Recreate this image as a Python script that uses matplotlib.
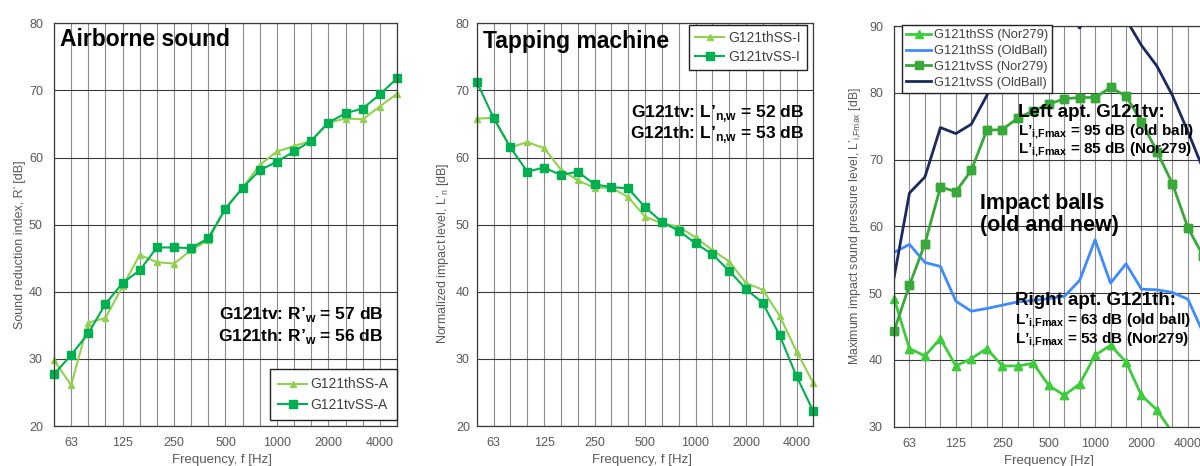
import numpy as np
import matplotlib
matplotlib.use('Agg')
import matplotlib.pyplot as plt

plt.rcParams['font.family'] = ['Liberation Sans', 'DejaVu Sans']
plt.rcParams['mathtext.fontset'] = 'custom'
plt.rcParams['mathtext.rm'] = 'Liberation Sans'
plt.rcParams['mathtext.bf'] = 'Liberation Sans:bold'

# 1/3 octave bands
freqs = [50, 63, 80, 100, 125, 160, 200, 250, 315, 400, 500, 630, 800,
         1000, 1250, 1600, 2000, 2500, 3150, 4000, 5000]
shown = [63, 125, 250, 500, 1000, 2000, 4000]

# airborne sound, R' [dB]
R_th = [29.8, 26.1, 35.4, 36.1, 40.8, 45.5, 44.4, 44.2, 46.2, 47.7, 52.4,
        55.5, 58.9, 60.9, 61.7, 62.5, 65.2, 65.8, 65.7, 67.6, 69.5]
R_tv = [27.7, 30.6, 33.8, 38.2, 41.3, 43.2, 46.6, 46.6, 46.5, 48.0, 52.4,
        55.5, 58.1, 59.4, 60.9, 62.5, 65.2, 66.6, 67.3, 69.4, 71.8]

# tapping machine, L'n [dB]
Ln_th = [65.8, 65.9, 61.5, 62.3, 61.4, 58.2, 56.6, 55.5, 55.5, 54.1, 51.2,
         50.2, 49.7, 48.1, 46.2, 44.5, 41.3, 40.3, 36.4, 31.1, 26.4]
Ln_tv = [71.3, 65.9, 61.5, 57.9, 58.5, 57.4, 57.9, 56.0, 55.6, 55.4, 52.6,
         50.4, 49.1, 47.2, 45.6, 43.1, 40.4, 38.3, 33.5, 27.4, 22.2]

# impact balls, L'i,Fmax [dB]
th_nor = [49.2, 41.7, 40.6, 43.2, 39.1, 40.2, 41.7, 39.1, 39.1, 39.5, 36.2,
          34.7, 36.4, 40.7, 42.2, 39.7, 34.7, 32.5, 29.1, np.nan, np.nan]
th_old = [56.1, 57.3, 54.6, 54.0, 48.8, 47.3, 47.7, 48.2, 48.7, 48.9, 49.2,
          49.5, 51.9, 58.0, 51.5, 54.4, 50.6, 50.5, 50.1, 49.1, 44.0]
tv_nor = [44.3, 51.2, 57.4, 65.9, 65.2, 68.4, 74.4, 74.5, 76.2, 77.3, 78.3,
          79.1, 79.3, 79.3, 80.8, 79.5, 75.7, 71.2, 66.4, 59.8, 55.5]
tv_old = [52.3, 65.0, 67.4, 74.8, 73.9, 75.3, 79.6, 85.0, 89.0, 92.0, 93.0,
          93.0, 89.7, 93.0, 95.0, 91.0, 87.1, 84.0, 79.6, 74.2, 68.5]

x = np.arange(len(freqs))
grey = '#595959'

fig = plt.figure(figsize=(12, 4.66), dpi=100)
ax1 = fig.add_axes([0.045, 0.0858, 0.2858, 0.8642])
ax2 = fig.add_axes([0.3973, 0.0858, 0.2805, 0.8642])
ax3 = fig.add_axes([0.745, 0.0843, 0.2578, 0.8598])


def style(ax, ylo, yhi):
    ax.set_xlim(0, len(freqs) - 1)
    ax.set_ylim(ylo, yhi)
    ax.set_xticks(x)
    ax.set_xticklabels([str(f) if f in shown else '' for f in freqs])
    ax.set_yticks(np.arange(ylo, yhi + 1, 10))
    ax.tick_params(length=0, labelsize=9, labelcolor=grey)
    ax.tick_params(axis='x', pad=8)
    ax.tick_params(axis='y', pad=8)
    ax.grid(axis='x', color='#8c8c8c', lw=0.8)
    ax.grid(axis='y', color='#3a3a3a', lw=0.8)
    ax.set_axisbelow(True)
    for s in ax.spines.values():
        s.set_color('#3a3a3a')
        s.set_linewidth(0.9)


def legend(ax, **kw):
    leg = ax.legend(fancybox=False, framealpha=1, edgecolor='#222222',
                    borderaxespad=0, **kw)
    for t in leg.get_texts():
        t.set_color('#404040')
    return leg


# --- Airborne sound
style(ax1, 20, 80)
ax1.plot(x, R_th, color='#92d050', marker='^', ms=5, lw=1.5, label='G121thSS-A', clip_on=False)
ax1.plot(x, R_tv, color='#00b050', marker='s', ms=5.5, lw=1.5, label='G121tvSS-A', clip_on=False)
ax1.set_xlabel('Frequency, f [Hz]', fontsize=9.5, color=grey)
ax1.set_ylabel('Sound reduction index, R’ [dB]', fontsize=9, color=grey)
ax1.xaxis.set_label_coords(0.49, -0.07)
ax1.yaxis.set_label_coords(-0.082, 0.45)
ax1.text(0.0175, 0.961, 'Airborne sound', transform=ax1.transAxes, fontsize=16.5,
         fontweight='bold', va='center', ha='left')
ax1.text(0.959, 0.278, 'G121tv: R’$_\\mathregular{w}$ = 57 dB', transform=ax1.transAxes,
         fontsize=12.5, fontweight='bold', va='center', ha='right')
ax1.text(0.959, 0.2235, 'G121th: R’$_\\mathregular{w}$ = 56 dB', transform=ax1.transAxes,
         fontsize=12.5, fontweight='bold', va='center', ha='right')
legend(ax1, loc='lower right', bbox_to_anchor=(1.0, 0.015), fontsize=10,
       handlelength=2.1, handletextpad=0.25, labelspacing=0.45, borderpad=0.6)

# --- Tapping machine
style(ax2, 20, 80)
ax2.tick_params(axis='y', pad=5)
ax2.plot(x, Ln_th, color='#92d050', marker='^', ms=5, lw=1.5, label='G121thSS-I', clip_on=False)
ax2.plot(x, Ln_tv, color='#00b050', marker='s', ms=5.5, lw=1.5, label='G121tvSS-I', clip_on=False)
ax2.set_xlabel('Frequency, f [Hz]', fontsize=9.5, color=grey)
ax2.set_ylabel('Normalized impact level, L’$_\\mathregular{n}$ [dB]', fontsize=9, color=grey)
ax2.xaxis.set_label_coords(0.49, -0.07)
ax2.yaxis.set_label_coords(-0.076, 0.43)
ax2.text(0.019, 0.954, 'Tapping machine', transform=ax2.transAxes, fontsize=16.5,
         fontweight='bold', va='center', ha='left')
ax2.text(0.972, 0.777, 'G121tv: L’$_\\mathregular{n{,}w}$ = 52 dB', transform=ax2.transAxes,
         fontsize=12.5, fontweight='bold', va='center', ha='right')
ax2.text(0.972, 0.723, 'G121th: L’$_\\mathregular{n{,}w}$ = 53 dB', transform=ax2.transAxes,
         fontsize=12.5, fontweight='bold', va='center', ha='right')
legend(ax2, loc='upper right', bbox_to_anchor=(0.98, 0.996), fontsize=10,
       handlelength=2.1, handletextpad=0.25, labelspacing=0.35, borderpad=0.45)

# --- Impact balls
style(ax3, 30, 90)
c_thn, c_tvn, c_tho, c_tvo = '#3ccc3c', '#38a838', '#3d8bfd', '#1b2a5e'
ax3.plot(x, th_nor, color=c_thn, marker='^', ms=6, lw=2, label='G121thSS (Nor279)')
ax3.plot(x, th_old, color=c_tho, lw=2, label='G121thSS (OldBall)')
ax3.plot(x, tv_nor, color=c_tvn, marker='s', ms=6, lw=2, label='G121tvSS (Nor279)')
ax3.plot(x, tv_old, color=c_tvo, lw=2, label='G121tvSS (OldBall)')
# markers at the frame edge are not cut off
for vals, c, m in [(th_nor, c_thn, '^'), (tv_nor, c_tvn, 's')]:
    v = np.array(vals)
    ok = (v >= 30) & (v <= 90)
    ax3.plot(x[ok], v[ok], ls='none', marker=m, ms=6, color=c, clip_on=False)
ax3.set_xlabel('Frequency [Hz]', fontsize=9.5, color=grey)
ax3.set_ylabel('Maximum impact sound pressure level, L’$_\\mathregular{i{,}Fmax}$ [dB]',
               fontsize=8.8, color=grey)
ax3.xaxis.set_label_coords(0.5, -0.07)
ax3.yaxis.set_label_coords(-0.097, 0.5)
legend(ax3, loc='upper left', bbox_to_anchor=(0.025, 1.002), fontsize=9.3,
       handlelength=2.0, handletextpad=0.2, labelspacing=0.3, borderpad=0.3)

sub = 'L’$_\\mathregular{i{,}Fmax}$'
ax3.text(0.401, 0.783, 'Left apt. G121tv:', transform=ax3.transAxes, fontsize=13.5,
         fontweight='bold', va='center', ha='left')
ax3.text(0.401, 0.737, sub + ' = 95 dB (old ball)', transform=ax3.transAxes,
         fontsize=11, fontweight='bold', va='center', ha='left')
ax3.text(0.401, 0.692, sub + ' = 85 dB (Nor279)', transform=ax3.transAxes,
         fontsize=11, fontweight='bold', va='center', ha='left')
ax3.text(0.278, 0.558, 'Impact balls', transform=ax3.transAxes, fontsize=15.5,
         fontweight='bold', va='center', ha='left')
ax3.text(0.278, 0.503, '(old and new)', transform=ax3.transAxes, fontsize=15.5,
         fontweight='bold', va='center', ha='left')
ax3.text(0.391, 0.314, 'Right apt. G121th:', transform=ax3.transAxes, fontsize=13.5,
         fontweight='bold', va='center', ha='left')
ax3.text(0.391, 0.2645, sub + ' = 63 dB (old ball)', transform=ax3.transAxes,
         fontsize=11, fontweight='bold', va='center', ha='left')
ax3.text(0.391, 0.216, sub + ' = 53 dB (Nor279)', transform=ax3.transAxes,
         fontsize=11, fontweight='bold', va='center', ha='left')

fig.savefig('out.png', dpi=100)
